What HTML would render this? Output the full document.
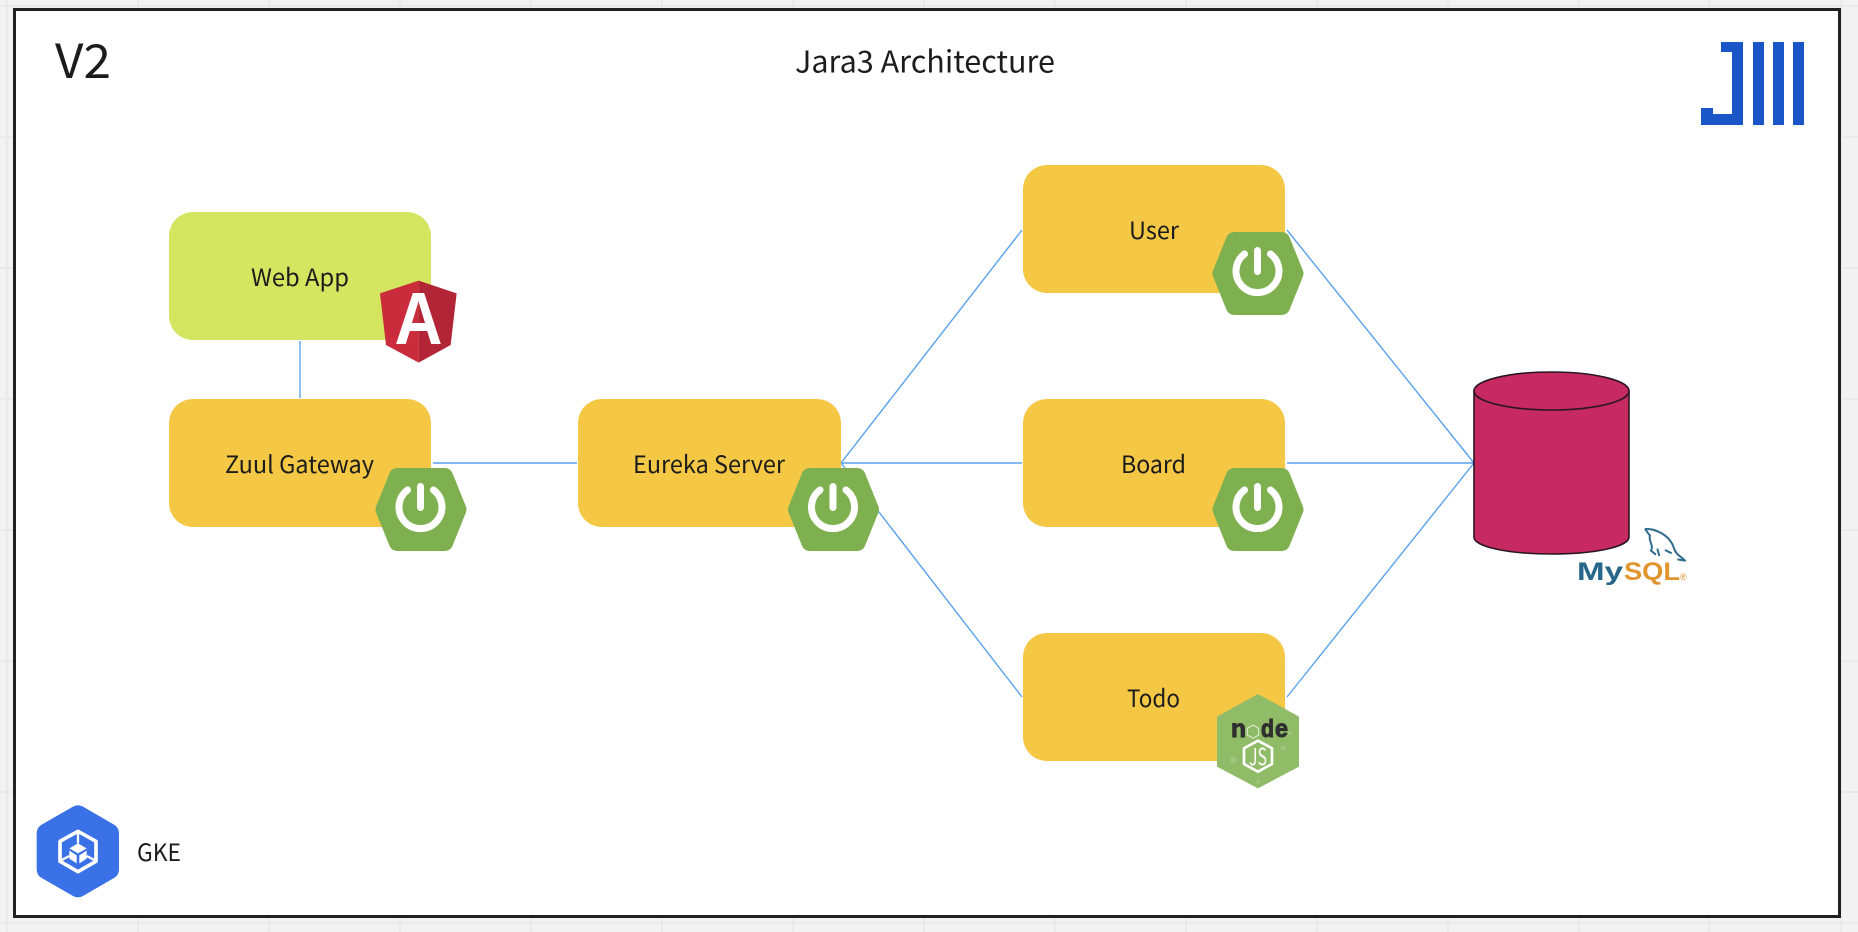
<!DOCTYPE html>
<html>
<head>
<meta charset="utf-8">
<style>
html,body{margin:0;padding:0;background:#f2f2f2}
svg{display:block}
text{font-family:"Noto Sans CJK SC","Liberation Sans","DejaVu Sans",sans-serif;fill:#1c1c1c}
.lib{font-family:"Liberation Sans","DejaVu Sans",sans-serif}
</style>
</head>
<body>
<svg width="1858" height="932" viewBox="0 0 1858 932" xmlns="http://www.w3.org/2000/svg">
<rect width="1858" height="932" fill="#f2f2f2"/>
<g stroke="#e9e9e9" stroke-width="2">
<path d="M7 0V932M138 0V932M269 0V932M400 0V932M531 0V932M662 0V932M793 0V932M924 0V932M1055 0V932M1186 0V932M1317 0V932M1448 0V932M1579 0V932M1709 0V932M1841 0V932"/>
<path d="M0 6H1858M0 137H1858M0 268H1858M0 399H1858M0 530H1858M0 661H1858M0 792H1858M0 923H1858"/>
</g>
<rect x="14.5" y="9.5" width="1825" height="907" fill="#fff" stroke="#222" stroke-width="3"/>

<text x="55" y="78" font-size="47" textLength="56" lengthAdjust="spacingAndGlyphs">V2</text>
<text x="795" y="72.5" font-size="30" textLength="260" lengthAdjust="spacingAndGlyphs">Jara3 Architecture</text>

<!-- logo -->
<g fill="#1a56c8">
<path d="M1721 42H1743V125H1713V114H1732V52H1721Z"/>
<rect x="1701" y="108" width="12" height="17"/>
<rect x="1753" y="42" width="11" height="83"/>
<rect x="1773" y="42" width="11" height="83"/>
<rect x="1793" y="42" width="11" height="83"/>
</g>

<!-- connectors -->
<g stroke="#5aa2ec" stroke-width="1.4" fill="none">
<path d="M300 341V398"/>
<path d="M433 463H577"/>
<path d="M841 463L1022 230M841 463H1022M841 463L1022 697"/>
<path d="M1287 230L1474 463M1287 463H1474M1287 697L1474 463"/>
</g>

<!-- boxes -->
<rect x="169" y="212" width="262" height="128" rx="24" fill="#d4e55f"/>
<g fill="#f4c744">
<rect x="169" y="399" width="262" height="128" rx="24"/>
<rect x="578" y="399" width="263" height="128" rx="24"/>
<rect x="1023" y="165" width="262" height="128" rx="24"/>
<rect x="1023" y="399" width="262" height="128" rx="24"/>
<rect x="1023" y="633" width="262" height="128" rx="24"/>
</g>

<g font-size="24">
<text x="251" y="286" textLength="98" lengthAdjust="spacingAndGlyphs">Web App</text>
<text x="225" y="473" textLength="149" lengthAdjust="spacingAndGlyphs">Zuul Gateway</text>
<text x="633" y="473" textLength="152" lengthAdjust="spacingAndGlyphs">Eureka Server</text>
<text x="1129" y="239" textLength="50" lengthAdjust="spacingAndGlyphs">User</text>
<text x="1121" y="473" textLength="65" lengthAdjust="spacingAndGlyphs">Board</text>
<text x="1127" y="707" textLength="53" lengthAdjust="spacingAndGlyphs">Todo</text>
</g>

<!-- angular -->
<g transform="translate(360,260) scale(0.3333)">
<polygon points="176,62 60,100 78,255 176,308" fill="#ca2c3b"/>
<polygon points="176,62 290,100 272,255 176,308" fill="#b22536"/>
</g>
<text class="lib" x="394.5" y="344" font-size="74" font-weight="bold" textLength="48" lengthAdjust="spacingAndGlyphs" style="fill:#fff">A</text>

<!-- spring icons -->
<defs>
<g id="spring">
<polygon points="-24,-33.5 24,-33.5 37.5,0 24,33.5 -24,33.5 -37.5,0" fill="#7eb050" stroke="#7eb050" stroke-width="16" stroke-linejoin="round"/>
<path d="M-13.5,-19.5 A21.5 21.5 0 1 0 12.5,-19.5" fill="none" stroke="#fff" stroke-width="7" stroke-linecap="round"/>
<path d="M-0.5,-23 V-2" fill="none" stroke="#fff" stroke-width="7" stroke-linecap="round"/>
</g>
</defs>
<use href="#spring" x="421" y="509.5"/>
<use href="#spring" x="833.5" y="509.5"/>
<use href="#spring" x="1258" y="273.5"/>
<use href="#spring" x="1258" y="509.5"/>

<!-- node -->
<g transform="translate(1190,670) scale(0.3333)">
<polygon points="204,72 327,140 327,290 204,355 81,290 81,140" fill="#90bb67"/>
<g fill="#a6c988" opacity="0.7"><circle cx="280" cy="235" r="8"/><circle cx="130" cy="270" r="10"/><circle cx="205" cy="335" r="6"/><circle cx="300" cy="190" r="6"/></g>
<polygon points="204,212 246,235 246,282 204,305 162,282 162,235" fill="none" stroke="#fff" stroke-width="8" stroke-linejoin="round"/>
<polygon points="189,165 206,175 206,195 189,205 172,195 172,175" fill="#90bb67" stroke="#e8f0de" stroke-width="3"/>
</g>
<g font-size="25" font-weight="bold" style="font-family:'Liberation Sans',sans-serif">
<text class="lib" x="1231" y="737" textLength="15" lengthAdjust="spacingAndGlyphs" stroke="#2f2f2f" stroke-width="1" style="fill:#2f2f2f">n</text>
<text class="lib" x="1261" y="737" textLength="13" lengthAdjust="spacingAndGlyphs" stroke="#2f2f2f" stroke-width="1" style="fill:#2f2f2f">d</text>
<text class="lib" x="1275" y="737" textLength="13" lengthAdjust="spacingAndGlyphs" stroke="#2f2f2f" stroke-width="1" style="fill:#2f2f2f">e</text>
</g>
<text x="1249" y="765" font-size="23" textLength="18" lengthAdjust="spacingAndGlyphs" style="fill:#fff">JS</text>

<!-- database -->
<g stroke="#2a1620" stroke-width="1.6" fill="#c72a60">
<path d="M1474 391V537C1474 547 1509 554 1551.5 554C1594 554 1629 547 1629 537V391Z"/>
<ellipse cx="1551.5" cy="391" rx="77.5" ry="19"/>
</g>

<!-- mysql -->
<g transform="translate(1570,520) scale(0.3333)" fill="none" stroke="#2f6c8f" stroke-width="6" stroke-linejoin="round">
<path d="M225 27C255 25 300 45 312 85C318 105 335 110 345 122L322 118"/>
<path d="M225 27L240 47C234 62 252 75 243 92L258 104M262 86L268 108M285 90L305 100"/>
</g>
<text class="lib" x="1577" y="580" font-size="25" font-weight="bold" textLength="46" lengthAdjust="spacingAndGlyphs" style="fill:#25668a">My</text>
<text class="lib" x="1624" y="580" font-size="25" font-weight="bold" textLength="56" lengthAdjust="spacingAndGlyphs" style="fill:#e0952f">SQL</text>
<text class="lib" x="1680" y="580" font-size="9" style="fill:#e0952f">®</text>

<!-- GKE -->
<g transform="translate(0,780) scale(0.3333)">
<polygon points="234,106 327,160 327,268 234,322 140,268 140,160" fill="#3b71e6" stroke="#3b71e6" stroke-width="60" stroke-linejoin="round"/>
<polygon points="234,154 288,184 288,244 234,275 180,244 180,184" fill="none" stroke="#fff" stroke-width="11" stroke-linejoin="round"/>
<polygon points="234,190 260,205 234,220 208,205" fill="#fff"/>
<polygon points="208,212 230,226 230,250 208,236" fill="#fff"/>
<polygon points="238,226 260,212 260,236 238,250" fill="#fff"/>
<path d="M234 160V190M185 240L208 228M283 240L260 228" stroke="#fff" stroke-width="7" fill="none"/>
</g>
<text x="137" y="861" font-size="24" textLength="44" lengthAdjust="spacingAndGlyphs">GKE</text>
</svg>
</body>
</html>
